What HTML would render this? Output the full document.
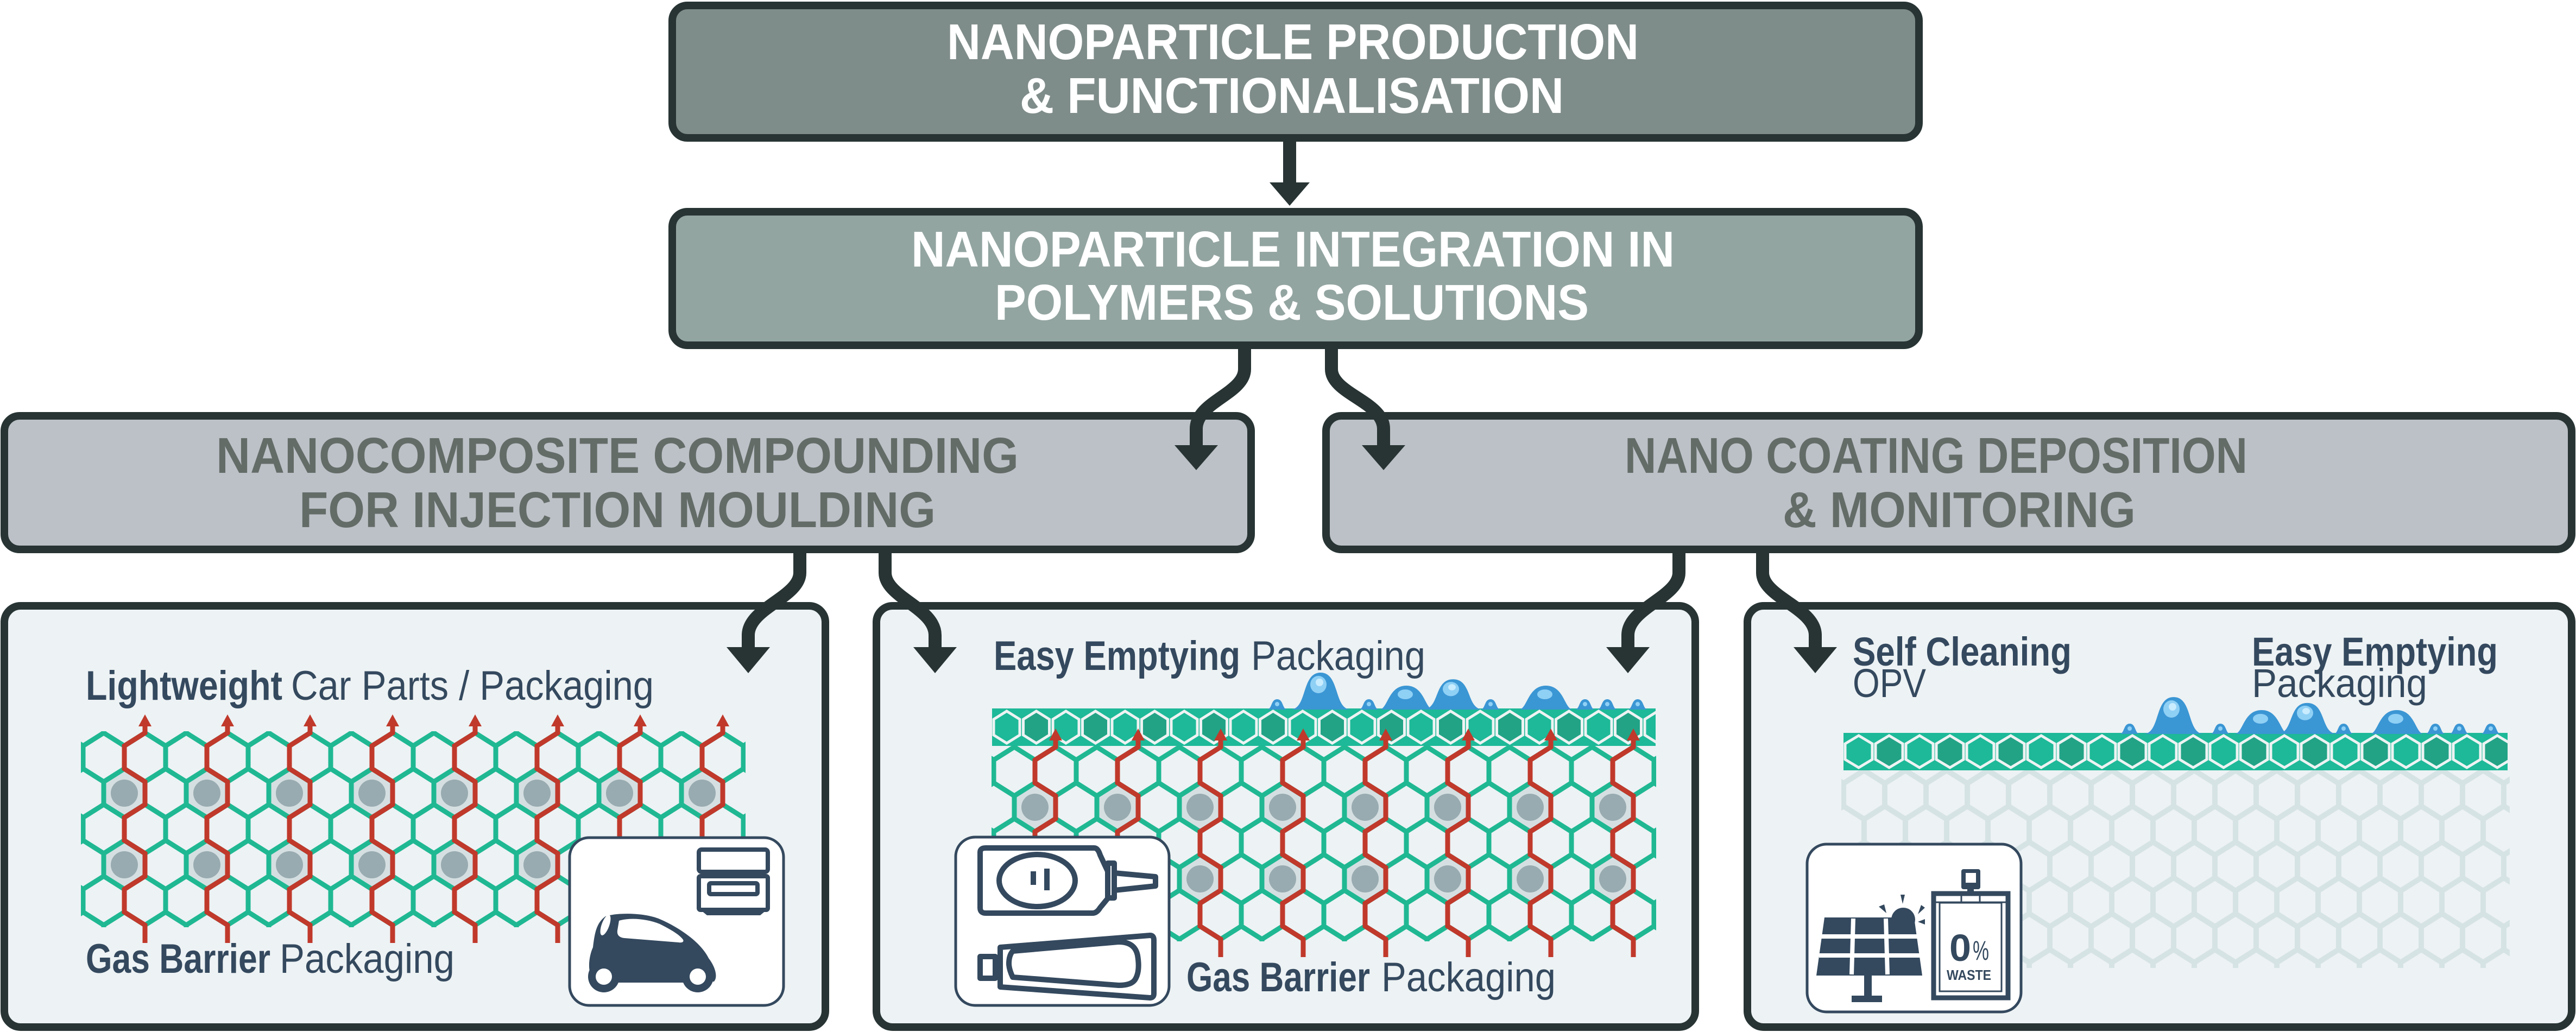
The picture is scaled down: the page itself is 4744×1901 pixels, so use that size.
<!DOCTYPE html>
<html><head><meta charset="utf-8"><style>html,body{margin:0;padding:0;background:#fff}svg{display:block}</style></head>
<body>
<svg xmlns="http://www.w3.org/2000/svg" width="4744" height="1901" viewBox="0 0 4744 1901" font-family="'Liberation Sans', Arial, sans-serif">
<defs>
<path id="hx" d="M0,24 L38,0 L76,24 M0,24 V66 L38,90 L76,66 M38,90 V132"/>
<pattern id="hg1" patternUnits="userSpaceOnUse" x="153" y="1350" width="76" height="132">
 <g fill="none" stroke="#1fb893" stroke-width="9"><use href="#hx"/><use href="#hx" x="-76"/><use href="#hx" x="76"/><use href="#hx" y="132"/><use href="#hx" y="-132"/></g>
</pattern>
<pattern id="hg2" patternUnits="userSpaceOnUse" x="1830" y="1376" width="76" height="132">
 <g fill="none" stroke="#1fb893" stroke-width="9"><use href="#hx"/><use href="#hx" x="-76"/><use href="#hx" x="76"/><use href="#hx" y="132"/><use href="#hx" y="-132"/></g>
</pattern>
<pattern id="hg3" patternUnits="userSpaceOnUse" x="3395" y="1419" width="76" height="132">
 <g fill="none" stroke="#d6e3e5" stroke-width="10"><use href="#hx"/><use href="#hx" x="-76"/><use href="#hx" x="76"/><use href="#hx" y="132"/><use href="#hx" y="-132"/></g>
</pattern>
<pattern id="band2" patternUnits="userSpaceOnUse" x="1827" y="1305" width="109" height="69">
 <rect width="109" height="69" fill="#1db998"/>
 <polygon points="27,5 51,20 51,49 27,64 3,49 3,20" fill="#1db998" stroke="#eef3f3" stroke-width="5"/>
 <polygon points="81.5,5 105.5,20 105.5,49 81.5,64 57.5,49 57.5,20" fill="#22a386" stroke="#eef3f3" stroke-width="5"/>
</pattern>
<pattern id="band3" patternUnits="userSpaceOnUse" x="3395" y="1350" width="112" height="69">
 <rect width="112" height="69" fill="#1db998"/>
 <polygon points="28,5 53,20 53,49 28,64 3,49 3,20" fill="#1db998" stroke="#eef3f3" stroke-width="5"/>
 <polygon points="84,5 109,20 109,49 84,64 59,49 59,20" fill="#22a386" stroke="#eef3f3" stroke-width="5"/>
</pattern>
<g id="red">
 <path d="M38,387 V354 L0,330 V288 L38,264 V222 L0,198 V156 L38,132 V90 L0,66 V24 L38,0 V-14" fill="none" stroke="#c0392b" stroke-width="9"/>
 <polygon points="26,-12 50,-12 38,-34" fill="#c0392b"/>
</g>
<g id="part">
 <polygon points="0,-45 38,-21 38,21 0,45 -38,21 -38,-21" fill="#d5dfe2"/>
 <circle r="25" fill="#98abb0"/>
</g>
<g id="dbig"><path d="M-56,0 C-24,0 -36,-68 0,-68 C36,-68 24,0 56,0 Z" fill="#3b96d4"/><ellipse cx="-4" cy="-46" rx="15" ry="16" fill="#8fd0f5"/><ellipse cx="-2" cy="-50" rx="7" ry="7" fill="#c9ecff"/></g>
<g id="dmed"><path d="M-50,0 C-34,0 -34,-44 0,-44 C34,-44 34,0 50,0 Z" fill="#3b96d4"/><ellipse cx="-2" cy="-28" rx="14" ry="9" fill="#8fd0f5"/></g>
<g id="dsm"><path d="M-19,0 C-9,0 -12,-19 0,-19 C12,-19 9,0 19,0 Z" fill="#3b96d4"/><circle cx="0" cy="-10" r="4" fill="#8fd0f5"/></g>
</defs>

<rect x="1238" y="10" width="2296" height="244" rx="28" fill="#7f8d8a" stroke="#283434" stroke-width="14"/>
<g fill="#fff" font-weight="bold" font-size="93">
<text x="1744" y="109" textLength="1274" lengthAdjust="spacingAndGlyphs">NANOPARTICLE PRODUCTION</text>
<text x="1878" y="208" textLength="1002" lengthAdjust="spacingAndGlyphs">&amp; FUNCTIONALISATION</text>
</g>
<rect x="1238" y="390" width="2296" height="246" rx="28" fill="#93a5a1" stroke="#283434" stroke-width="14"/>
<g fill="#fff" font-weight="bold" font-size="93">
<text x="1678" y="491" textLength="1406" lengthAdjust="spacingAndGlyphs">NANOPARTICLE INTEGRATION IN</text>
<text x="1832" y="589" textLength="1094" lengthAdjust="spacingAndGlyphs">POLYMERS &amp; SOLUTIONS</text>
</g>
<rect x="8" y="766" width="2296" height="246" rx="28" fill="#bcc1c7" stroke="#283434" stroke-width="14"/>
<rect x="2442" y="766" width="2294" height="246" rx="28" fill="#bcc1c7" stroke="#283434" stroke-width="14"/>
<g fill="#646c68" font-weight="bold" font-size="93">
<text x="398" y="871" textLength="1478" lengthAdjust="spacingAndGlyphs">NANOCOMPOSITE COMPOUNDING</text>
<text x="551" y="971" textLength="1172" lengthAdjust="spacingAndGlyphs">FOR INJECTION MOULDING</text>
<text x="2992" y="871" textLength="1147" lengthAdjust="spacingAndGlyphs">NANO COATING DEPOSITION</text>
<text x="3283" y="971" textLength="650" lengthAdjust="spacingAndGlyphs">&amp; MONITORING</text>
</g>

<rect x="8" y="1116" width="1512" height="776" rx="30" fill="#edf2f4" stroke="#283434" stroke-width="14"/>
<rect x="1614" y="1116" width="1508" height="776" rx="30" fill="#edf2f4" stroke="#283434" stroke-width="14"/>
<rect x="3218" y="1116" width="1518" height="776" rx="30" fill="#edf2f4" stroke="#283434" stroke-width="14"/>

<g>
<use href="#part" x="229" y="1461"/><use href="#part" x="381" y="1461"/><use href="#part" x="533" y="1461"/><use href="#part" x="685" y="1461"/><use href="#part" x="837" y="1461"/><use href="#part" x="989" y="1461"/><use href="#part" x="1141" y="1461"/><use href="#part" x="1293" y="1461"/>
<use href="#part" x="229" y="1593"/><use href="#part" x="381" y="1593"/><use href="#part" x="533" y="1593"/><use href="#part" x="685" y="1593"/><use href="#part" x="837" y="1593"/><use href="#part" x="989" y="1593"/><use href="#part" x="1141" y="1593"/><use href="#part" x="1293" y="1593"/>
</g>
<rect x="149" y="1347" width="1224" height="361" fill="url(#hg1)"/>
<g>
<use href="#red" x="229" y="1350"/><use href="#red" x="381" y="1350"/><use href="#red" x="533" y="1350"/><use href="#red" x="685" y="1350"/><use href="#red" x="837" y="1350"/><use href="#red" x="989" y="1350"/><use href="#red" x="1141" y="1350"/><use href="#red" x="1293" y="1350"/>
</g>
<g fill="#34495e" font-size="76">
<text x="158" y="1289" font-weight="bold" textLength="362" lengthAdjust="spacingAndGlyphs">Lightweight</text>
<text x="536" y="1289" textLength="668" lengthAdjust="spacingAndGlyphs">Car Parts / Packaging</text>
<text x="158" y="1792" font-weight="bold" textLength="340" lengthAdjust="spacingAndGlyphs">Gas Barrier</text>
<text x="515" y="1792" textLength="322" lengthAdjust="spacingAndGlyphs">Packaging</text>
</g>
<rect x="1049" y="1543" width="394" height="309" rx="36" fill="#fff" stroke="#34495e" stroke-width="5"/>
<g fill="none" stroke="#34495e" stroke-width="8">
<rect x="1287" y="1565" width="127" height="41" rx="5"/>
<rect x="1287" y="1614" width="127" height="62" rx="3"/>
<rect x="1306" y="1627" width="89" height="20" rx="3"/>
</g>
<path d="M1290,1676 L1302,1686 L1400,1686 L1412,1676 Z" fill="#34495e"/>
<path d="M1093,1805 C1080,1790 1085,1760 1092,1745 C1095,1720 1098,1700 1115,1688 C1140,1680 1190,1682 1215,1693 C1250,1708 1290,1735 1305,1765 C1318,1782 1322,1800 1315,1808 L1300,1810 L1095,1810 Z" fill="#34495e"/>
<path d="M1140,1696 C1160,1690 1190,1692 1215,1702 C1235,1712 1252,1722 1258,1731 C1260,1735 1256,1737 1250,1736 L1150,1728 C1140,1727 1136,1722 1137,1714 Z" fill="#fff"/>
<ellipse cx="1115" cy="1704" rx="7" ry="20" transform="rotate(20 1115 1704)" fill="#fff"/>
<circle cx="1112" cy="1799" r="29" fill="#34495e"/><circle cx="1112" cy="1799" r="15" fill="#fff"/>
<circle cx="1285" cy="1799" r="29" fill="#34495e"/><circle cx="1285" cy="1799" r="15" fill="#fff"/>

<g>
<use href="#part" x="1906" y="1487"/><use href="#part" x="2058" y="1487"/><use href="#part" x="2210" y="1487"/><use href="#part" x="2362" y="1487"/><use href="#part" x="2514" y="1487"/><use href="#part" x="2666" y="1487"/><use href="#part" x="2818" y="1487"/><use href="#part" x="2970" y="1487"/>
<use href="#part" x="1906" y="1619"/><use href="#part" x="2058" y="1619"/><use href="#part" x="2210" y="1619"/><use href="#part" x="2362" y="1619"/><use href="#part" x="2514" y="1619"/><use href="#part" x="2666" y="1619"/><use href="#part" x="2818" y="1619"/><use href="#part" x="2970" y="1619"/>
</g>
<rect x="1826" y="1374" width="1224" height="360" fill="url(#hg2)"/>
<rect x="1827" y="1305" width="1222" height="69" fill="url(#band2)"/>
<g>
<use href="#red" x="1906" y="1376"/><use href="#red" x="2058" y="1376"/><use href="#red" x="2210" y="1376"/><use href="#red" x="2362" y="1376"/><use href="#red" x="2514" y="1376"/><use href="#red" x="2666" y="1376"/><use href="#red" x="2818" y="1376"/><use href="#red" x="2970" y="1376"/>
</g>
<g>
<use href="#dbig" x="2432" y="1307"/><use href="#dbig" transform="translate(2676 1307) scale(1 0.82)"/>
<use href="#dmed" x="2590" y="1307"/><use href="#dmed" x="2847" y="1307"/>
<use href="#dsm" x="2352" y="1307"/><use href="#dsm" x="2521" y="1307"/><use href="#dsm" x="2745" y="1307"/><use href="#dsm" x="2919" y="1307"/><use href="#dsm" x="2960" y="1307"/><use href="#dsm" x="3016" y="1307"/>
</g>
<g fill="#34495e" font-size="76">
<text x="1830" y="1234" font-weight="bold" textLength="454" lengthAdjust="spacingAndGlyphs">Easy Emptying</text>
<text x="2304" y="1234" textLength="321" lengthAdjust="spacingAndGlyphs">Packaging</text>
<text x="2185" y="1826" font-weight="bold" textLength="338" lengthAdjust="spacingAndGlyphs">Gas Barrier</text>
<text x="2544" y="1826" textLength="321" lengthAdjust="spacingAndGlyphs">Packaging</text>
</g>
<rect x="1760" y="1542" width="393" height="310" rx="36" fill="#fff" stroke="#34495e" stroke-width="5"/>
<g fill="none" stroke="#34495e" stroke-width="10" stroke-linejoin="round">
<path d="M1805,1570 Q1805,1562 1815,1562 L2015,1562 Q2022,1562 2026,1575 L2040,1605 L2040,1655 L2026,1672 Q2020,1682 2012,1682 L1815,1682 Q1805,1682 1805,1672 Z"/>
<ellipse cx="1910" cy="1622" rx="70" ry="48"/>
<path d="M1903,1605 V1630 M1928,1600 V1640"/>
<rect x="2040" y="1590" width="12" height="64"/>
<path d="M2052,1608 L2128,1615 L2128,1632 L2052,1640"/>
<path d="M1842,1745 L2118,1723 Q2125,1723 2125,1732 L2125,1830 Q2125,1838 2118,1838 L1842,1818 Z"/>
<path d="M1865,1752 L2060,1735 Q2090,1735 2095,1760 Q2100,1790 2090,1805 Q2083,1815 2060,1815 L1865,1800 Q1858,1785 1858,1775 Q1858,1760 1865,1752 Z"/>
<rect x="1805" y="1762" width="28" height="40"/>
</g>

<rect x="3391" y="1417" width="1231" height="366" fill="url(#hg3)"/>
<rect x="3395" y="1350" width="1223" height="69" fill="url(#band3)"/>
<g>
<use href="#dbig" x="4003" y="1352"/><use href="#dbig" transform="translate(4249 1352) scale(1 0.84)"/>
<use href="#dmed" x="4165" y="1352"/><use href="#dmed" x="4414" y="1352"/>
<use href="#dsm" x="3922" y="1352"/><use href="#dsm" x="4089" y="1352"/><use href="#dsm" x="4316" y="1352"/><use href="#dsm" x="4485" y="1352"/><use href="#dsm" x="4529" y="1352"/><use href="#dsm" x="4587" y="1352"/>
</g>
<g fill="#34495e" font-size="74">
<text x="3412" y="1226" font-weight="bold" textLength="403" lengthAdjust="spacingAndGlyphs">Self Cleaning</text>
<text x="3412" y="1284" textLength="135" lengthAdjust="spacingAndGlyphs">OPV</text>
<text x="4147" y="1226" font-weight="bold" textLength="453" lengthAdjust="spacingAndGlyphs">Easy Emptying</text>
<text x="4147" y="1284" textLength="323" lengthAdjust="spacingAndGlyphs">Packaging</text>
</g>
<rect x="3328" y="1555" width="394" height="309" rx="36" fill="#fff" stroke="#34495e" stroke-width="5"/>
<path d="M3360,1690 L3525,1690 L3540,1797 L3345,1797 Z" fill="#34495e"/>
<g stroke="#fff" stroke-width="8"><path d="M3352,1725 H3533 M3350,1760 H3537 M3413,1692 L3410,1795 M3473,1692 L3476,1795"/></g>
<rect x="3433" y="1797" width="14" height="40" fill="#34495e"/><rect x="3410" y="1834" width="56" height="12" fill="#34495e"/>
<circle cx="3505" cy="1694" r="22" fill="#34495e"/>
<g fill="#34495e"><polygon points="3500,1648 3508,1648 3504,1665"/><polygon points="3460,1670 3470,1666 3474,1682"/><polygon points="3538,1667 3545,1672 3532,1684"/><polygon points="3545,1693 3545,1703 3532,1698"/></g>
<rect x="3561" y="1646" width="137" height="192" fill="#fff" stroke="#34495e" stroke-width="9"/>
<rect x="3572" y="1663" width="114" height="163" fill="none" stroke="#34495e" stroke-width="3"/>
<path d="M3565,1662 H3694 M3612,1650 V1663 M3646,1650 V1663" stroke="#34495e" stroke-width="3"/>
<rect x="3612" y="1601" width="35" height="37" rx="4" fill="#34495e"/><rect x="3620" y="1608" width="19" height="18" fill="#fff"/>
<rect x="3623" y="1636" width="12" height="12" fill="#34495e"/>
<text x="3590" y="1770" font-size="70" font-weight="bold" fill="#34495e" textLength="40" lengthAdjust="spacingAndGlyphs">0</text>
<text x="3633" y="1768" font-size="50" fill="#34495e" textLength="30" lengthAdjust="spacingAndGlyphs">%</text>
<text x="3585" y="1805" font-size="26" font-weight="bold" fill="#34495e" textLength="82" lengthAdjust="spacingAndGlyphs">WASTE</text>

<g fill="none" stroke="#283434" stroke-width="24">
<path d="M2375,258 V340"/>
<path d="M2292,640 V680 C2292,725 2203,740 2203,790 V825"/>
<path d="M2452,640 V680 C2452,725 2548,740 2548,790 V825"/>
<path d="M1473,1016 V1055 C1473,1100 1378,1120 1378,1170 V1198"/>
<path d="M1630,1016 V1055 C1630,1100 1722,1120 1722,1170 V1198"/>
<path d="M3092,1016 V1055 C3092,1100 2998,1120 2998,1170 V1198"/>
<path d="M3246,1016 V1055 C3246,1100 3343,1120 3343,1170 V1198"/>
</g>
<g fill="#283434">
<polygon points="2338,336 2412,336 2375,379"/>
<polygon points="2163,820 2243,820 2203,866"/>
<polygon points="2508,820 2588,820 2548,866"/>
<polygon points="1338,1192 1418,1192 1378,1240"/>
<polygon points="1682,1192 1762,1192 1722,1240"/>
<polygon points="2958,1192 3038,1192 2998,1240"/>
<polygon points="3303,1192 3383,1192 3343,1240"/>
</g>
</svg>
</body></html>
